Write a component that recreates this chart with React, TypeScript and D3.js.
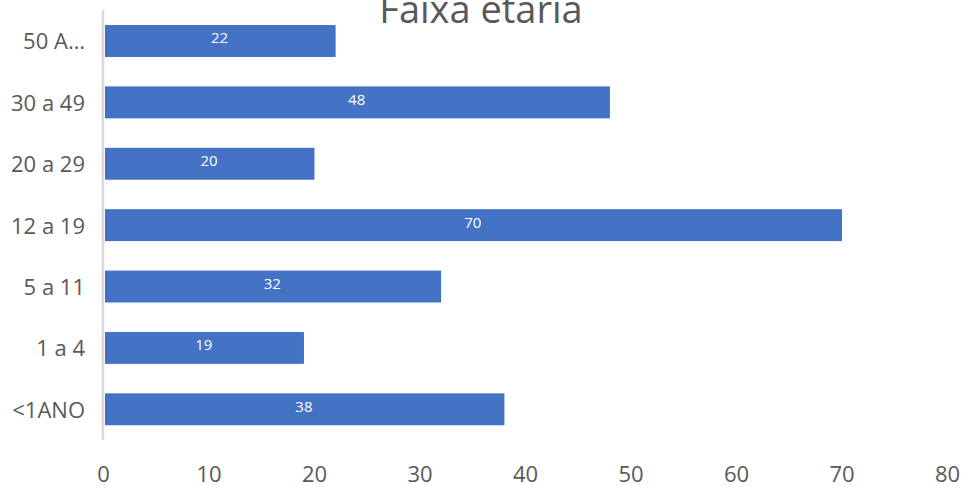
import React from 'react';
import * as d3 from 'd3';

const categories = ['50 A…', '30 a 49', '20 a 29', '12 a 19', '5 a 11', '1 a 4', '<1ANO'];
const values = [22, 48, 20, 70, 32, 19, 38];
const xTicks = [0, 10, 20, 30, 40, 50, 60, 70, 80];
const title = 'Faixa etária';

const W = 961;
const H = 486;
const FONT = "'Open Sans', 'Noto Sans', sans-serif";

const App: React.FC = () => {
  const x = d3.scaleLinear().domain([0, 80]).range([103.5, 947.5]);
  const y = d3.scaleBand<string>()
    .domain(categories)
    .range([10.3, 440])
    .paddingInner(0.48)
    .paddingOuter(0.24);

  return (
    <svg width={W} height={H} style={{ position: 'absolute', left: 0, top: 0, background: '#fff' }}>
      <text x={481} y={23} textAnchor="middle" fontFamily={FONT} fontSize={38} fill="#595959">
        {title}
      </text>

      {/* bars */}
      {categories.map((c, i) => (
        <g key={c}>
          <rect
            x={x(0) + 1.5}
            y={y(c)!}
            width={x(values[i]) - x(0) - 1.5}
            height={y.bandwidth()}
            fill="#4472c4"
          />
          <text
            x={(x(0) + x(values[i])) / 2}
            y={y(c)! + y.bandwidth() / 2 + 2.5}
            textAnchor="middle"
            fontFamily={FONT}
            fontSize={15}
            fill="#fff"
          >
            {values[i]}
          </text>
          <text
            x={85}
            y={y(c)! + y.bandwidth() / 2 + 8.5}
            textAnchor="end"
            fontFamily={FONT}
            fontSize={22}
            fill="#595959"
          >
            {c}
          </text>
        </g>
      ))}

      {/* category axis line */}
      <line x1={103} x2={103} y1={10} y2={440} stroke="#d9d9d9" strokeWidth={2.5} />

      {/* value axis labels */}
      {xTicks.map(t => (
        <text
          key={t}
          x={x(t)}
          y={482}
          textAnchor="middle"
          fontFamily={FONT}
          fontSize={22}
          fill="#595959"
        >
          {t}
        </text>
      ))}
    </svg>
  );
};

export default App;
